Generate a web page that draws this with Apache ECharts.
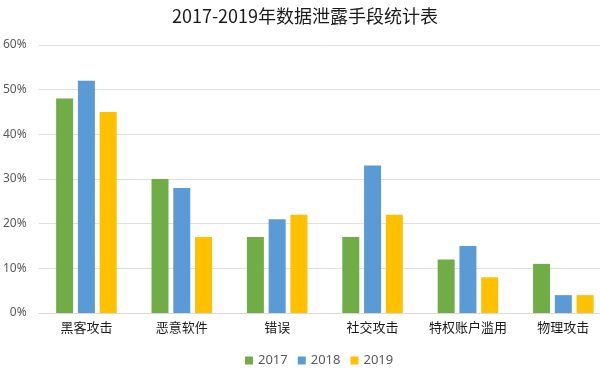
<!DOCTYPE html>
<html><head><meta charset="utf-8">
<script src="https://cdn.jsdelivr.net/npm/echarts@6/dist/echarts.min.js"></script>
<style>html,body{margin:0;padding:0;background:#fff;overflow:hidden;width:600px;height:374px}#c{width:612px;height:374px}</style>
</head><body><div id="c"></div>
<script>
const categories = ['黑客攻击','恶意软件','错误','社交攻击','特权账户滥用','物理攻击'];
const years = ['2017','2018','2019'];
const v2017 = [48, 30, 17, 17, 12, 11];
const v2018 = [52, 28, 21, 33, 15, 4];
const v2019 = [45, 17, 22, 22, 8, 4];
const colors = ['#70AD47','#5B9BD5','#FFC000'];
const chart = echarts.init(document.getElementById('c'));
const values = [v2017, v2018, v2019];
chart.setOption({
  animation:false,
  title:{text:'2017-2019年数据泄露手段统计表',left:300,textAlign:'center',top:2,
    textStyle:{fontFamily:'Noto Sans CJK SC',fontSize:18,fontWeight:'normal',color:'#1a1a1a'}},
  legend:{bottom:2,left:240,itemWidth:8,itemHeight:8,itemGap:10,icon:'rect',
    textStyle:{fontFamily:'Noto Sans',fontSize:13,color:'#595959'},data:years},
  grid:{left:36,top:45,width:575,height:268},
  xAxis:{type:'category',data:categories,axisTick:{show:false},
    axisLine:{show:true,lineStyle:{color:'#d9d9d9'}},
    axisLabel:{interval:0,fontFamily:'Noto Sans CJK SC',fontSize:13,color:'#1a1a1a',margin:8}},
  yAxis:{type:'value',min:0,max:60,interval:10,
    axisLabel:{formatter:'{value}%',fontFamily:'Noto Sans',fontSize:12,color:'#595959',margin:12},
    splitLine:{lineStyle:{color:'#e0e0e0'}},axisLine:{show:false}},
  series: years.map((y,i)=>({name:y,type:'bar',data:values[i],barWidth:17,barGap:'28%',
    itemStyle:{color:colors[i]}}))
});
</script></body></html>
